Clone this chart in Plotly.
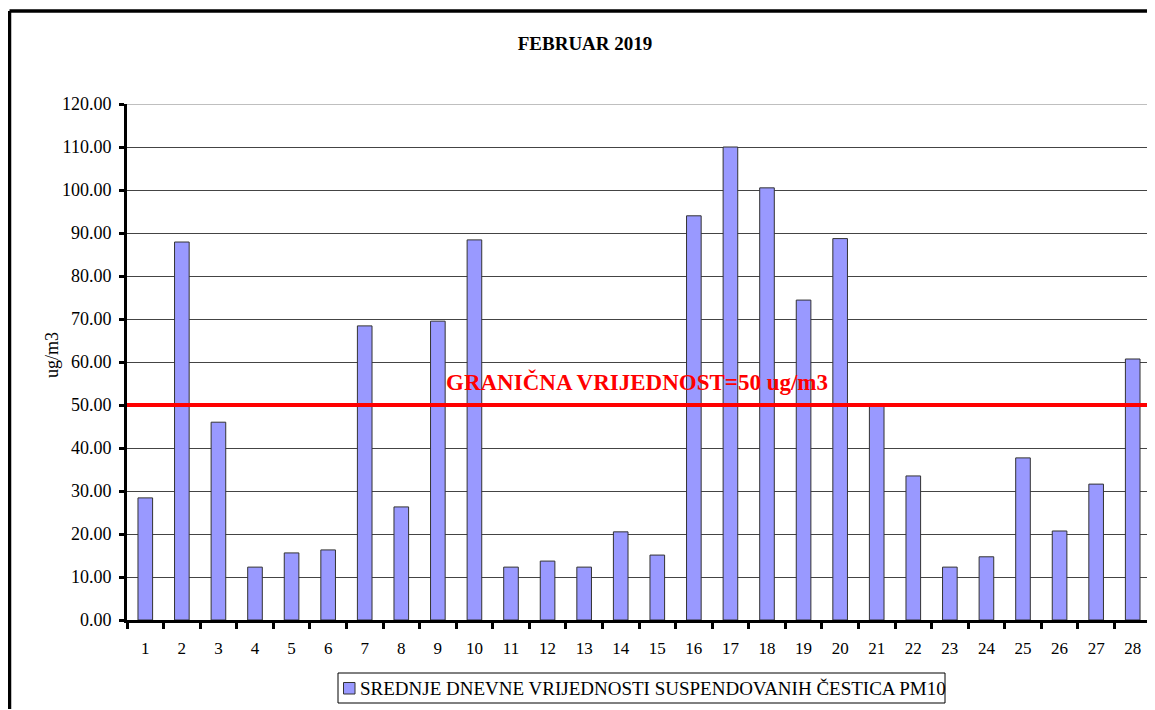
import plotly.graph_objects as go

days = [str(d) for d in range(1, 29)]
pm10 = [28.4, 87.9, 46.0, 12.3, 15.6, 16.3, 68.4, 26.3, 69.5, 88.4,
        12.3, 13.7, 12.3, 20.5, 15.1, 94.0, 110.0, 100.5, 74.4, 88.7,
        49.8, 33.5, 12.3, 14.7, 37.7, 20.7, 31.6, 60.7]
limit_value = 50
series_name = "SREDNJE DNEVNE VRIJEDNOSTI SUSPENDOVANIH ČESTICA PM10"
limit_label = "GRANIČNA VRIJEDNOST=50 ug/m3"
title_text = "FEBRUAR 2019"
y_ticks = list(range(0, 121, 10))

FONT = "Liberation Serif, Times New Roman, serif"
BAR_COLOR = "#9999FF"
BAR_EDGE = "#333333"

fig = go.Figure()
fig.add_trace(go.Bar(
    x=days, y=pm10, name=series_name,
    marker=dict(color=BAR_COLOR, line=dict(color=BAR_EDGE, width=1)),
    showlegend=False,
))

# page offset (body margin) and target plot area in page pixels: x 127..1151, y 104..620
OFF = 8
W, H = 1155 - OFF, 710 - OFF
L = 127 - OFF
T = 104 - OFF
R = W - (1151 - OFF)
B = H - (620 - OFF)
pw, ph = W - L - R, H - T - B

def px(x):
    return (x - OFF - L) / pw

def py(y):
    return (T + ph - (y - OFF)) / ph

shapes = [
    dict(type="line", xref="paper", yref="y", x0=0, x1=1, y0=limit_value, y1=limit_value,
         line=dict(color="#FF0000", width=4), layer="above"),
    dict(type="line", xref="paper", yref="y", x0=0, x1=1, y0=120, y1=120,
         line=dict(color="#AAAAAA", width=1.5), layer="above"),
    dict(type="line", xref="paper", yref="paper", x0=1, x1=1, y0=0, y1=1,
         line=dict(color="#AAAAAA", width=1.5), layer="above"),
    # outer chart frame
    dict(type="line", xref="paper", yref="paper", x0=px(9.5), x1=px(9.5), y0=py(709), y1=py(11),
         line=dict(color="#000000", width=3.5), layer="above"),
    dict(type="line", xref="paper", yref="paper", x0=px(9.5), x1=px(1154), y0=py(11), y1=py(11),
         line=dict(color="#000000", width=3.5), layer="above"),
    # legend box and symbol
    dict(type="rect", xref="paper", yref="paper", x0=px(338), x1=px(945), y0=py(703), y1=py(673),
         line=dict(color="#000000", width=1), fillcolor="white", layer="above"),
    dict(type="rect", xref="paper", yref="paper", x0=px(343.5), x1=px(355), y0=py(694), y1=py(682.5),
         line=dict(color=BAR_EDGE, width=1), fillcolor=BAR_COLOR, layer="above"),
]

annotations = [
    dict(text=f"<b>{limit_label}</b>", xref="paper", yref="y", x=px(637), y=55.3,
         showarrow=False, font=dict(family=FONT, size=23, color="#FF0000")),
    dict(text="ug/m3", xref="paper", yref="paper", x=px(40), y=py(355), textangle=-90,
         showarrow=False, font=dict(family=FONT, size=18, color="#000000")),
    dict(text=series_name, xref="paper", yref="paper", x=px(359), y=py(688.5),
         xanchor="left", yanchor="middle", showarrow=False, borderpad=0,
         font=dict(family=FONT, size=19, color="#000000")),
]

fig.update_layout(
    width=W, height=H,
    margin=dict(l=L, r=R, t=T, b=B),
    paper_bgcolor="white", plot_bgcolor="white",
    font=dict(family=FONT, size=18, color="#000000"),
    title=dict(text=f"<b>{title_text}</b>", xref="container", yref="container",
               x=(585 - OFF) / W, y=1 - (43 - OFF) / H, xanchor="center", yanchor="middle",
               font=dict(family=FONT, size=19, color="#000000")),
    bargap=0.6,
    showlegend=False,
    shapes=shapes,
    annotations=annotations,
    xaxis=dict(
        type="category", showline=True, linecolor="#000000", linewidth=3,
        ticks="outside", tickson="boundaries", ticklen=6, tickwidth=3, tickcolor="#000000",
        showgrid=False, ticklabelstandoff=11,
        tickfont=dict(family=FONT, size=17, color="#000000"),
    ),
    yaxis=dict(
        range=[0, 120], tickvals=y_ticks, tickformat=".2f",
        showline=True, linecolor="#000000", linewidth=3,
        ticks="outside", ticklen=5, tickwidth=3, tickcolor="#000000",
        showgrid=True, gridcolor="#444444", gridwidth=1,
        zeroline=False, ticklabelstandoff=4,
        tickfont=dict(family=FONT, size=18, color="#000000"),
    ),
)

fig.write_html("out.html")
